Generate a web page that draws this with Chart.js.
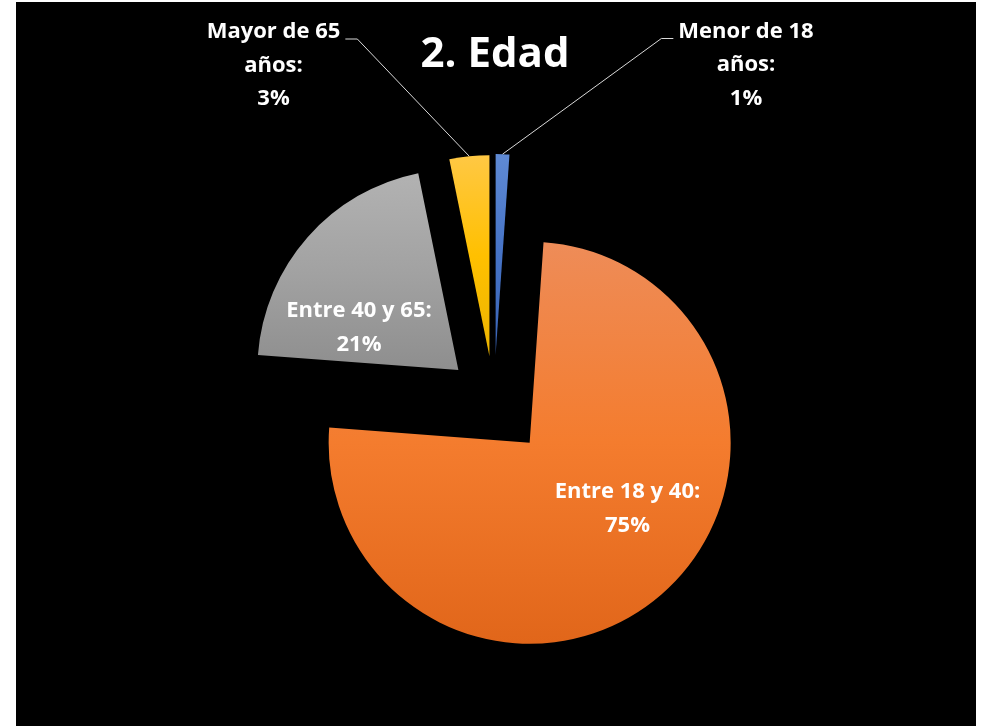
<!DOCTYPE html>
<html lang="es">
<head>
<meta charset="utf-8">
<title>2. Edad</title>
<script src="https://cdn.jsdelivr.net/npm/chart.js@4.4.1/dist/chart.umd.min.js"></script>
<style>
    html, body { margin: 0; padding: 0; background: #fff; }
    #wrap { position: absolute; left: 16px; top: 2px; width: 960px; height: 724px; background: #000; }
</style>
</head>
<body>
<div id="wrap"><canvas id="myChart"></canvas></div>
<script>
const chartTitle = '2. Edad';
const categories = ['Menor de 18 años', 'Entre 18 y 40', 'Entre 40 y 65', 'Mayor de 65 años'];
const percentages = [1.1, 75.1, 20.6, 3.2];

// look of each slice (gradient top -> middle -> bottom) and how far it is pulled out
const gradTop = ['#5F8AD4', '#EE8C58', '#B2B2B2', '#FFC844'];
const gradMid = ['#4673C6', '#F47C2E', '#A2A2A2', '#FFC000'];
const gradBottom = ['#3A64B6', '#E1661A', '#8E8E8E', '#ECB400'];
const explode = [46.5, 54.5, 47.5, 45.5];

// label placement: centre x, first baseline y, wrap width, leader direction (0 = none)
const labelStyle = [
    { x: 730, y: 35.5, maxWidth: 150, leader: -1 },
    { x: 611.5, y: 496, maxWidth: 220, leader: 0 },
    { x: 343, y: 315, maxWidth: 220, leader: 0 },
    { x: 257.5, y: 36, maxWidth: 150, leader: 1 }
];
const lineHeight = 33.5;

function wrapText(ctx, text, maxWidth) {
    const words = text.split(' ');
    const lines = [];
    let line = '';
    words.forEach(word => {
        const test = line ? line + ' ' + word : word;
        if (line && ctx.measureText(test).width > maxWidth) {
            lines.push(line);
            line = word;
        } else {
            line = test;
        }
    });
    lines.push(line);
    return lines;
}

// draws the slices pulled out from the centre, each with its own vertical gradient
const explodedPie = {
    id: 'explodedPie',
    beforeDatasetDraw(chart, args) {
        const ctx = chart.ctx;
        args.meta.data.forEach((arc, i) => {
            const mid = (arc.startAngle + arc.endAngle) / 2;
            let minY = arc.y, maxY = arc.y;
            for (let k = 0; k <= 90; k++) {
                const a = arc.startAngle + (arc.endAngle - arc.startAngle) * k / 90;
                const y = arc.y + Math.sin(a) * arc.outerRadius;
                minY = Math.min(minY, y);
                maxY = Math.max(maxY, y);
            }
            const grad = ctx.createLinearGradient(0, minY, 0, maxY);
            grad.addColorStop(0, gradTop[i]);
            grad.addColorStop(0.5, gradMid[i]);
            grad.addColorStop(1, gradBottom[i]);
            arc.options.backgroundColor = grad;
            ctx.save();
            ctx.translate(Math.cos(mid) * explode[i], Math.sin(mid) * explode[i]);
            arc.draw(ctx, chart.chartArea);
            ctx.restore();
        });
        return false;
    },
    afterDatasetsDraw(chart) {
        const ctx = chart.ctx;
        const arcs = chart.getDatasetMeta(0).data;
        const total = percentages.reduce((a, b) => a + b, 0);
        ctx.save();
        ctx.fillStyle = '#ffffff';
        ctx.textAlign = 'center';
        ctx.textBaseline = 'alphabetic';
        ctx.font = 'bold 42px "Open Sans"';
        ctx.fillText(chartTitle, 479, 65);

        ctx.font = 'bold 22px "Open Sans"';
        ctx.strokeStyle = '#d9d9d9';
        ctx.lineWidth = 1;
        arcs.forEach((arc, i) => {
            const s = labelStyle[i];
            const lines = wrapText(ctx, categories[i] + ':', s.maxWidth);
            lines.push(Math.round(percentages[i] / total * 100) + '%');
            lines.forEach((line, k) => ctx.fillText(line, s.x, s.y + k * lineHeight));

            if (s.leader) {
                const w = ctx.measureText(lines[0]).width;
                const mid = (arc.startAngle + arc.endAngle) / 2;
                const r = arc.outerRadius + explode[i];
                const ex = arc.x + Math.cos(mid) * r;
                const ey = arc.y + Math.sin(mid) * r;
                const sx = s.x + s.leader * (w / 2 + 5);
                const ly = s.y + 1;
                ctx.beginPath();
                ctx.moveTo(sx, ly);
                ctx.lineTo(sx + s.leader * 12, ly);
                ctx.lineTo(ex, ey);
                ctx.stroke();
            }
        });
        ctx.restore();
    }
};

const ctx = document.getElementById('myChart').getContext('2d');
new Chart(ctx, {
    type: 'pie',
    data: {
        labels: categories,
        datasets: [{
            data: percentages,
            backgroundColor: gradMid,
            borderWidth: 0
        }]
    },
    options: {
        responsive: true,
        maintainAspectRatio: false,
        animation: false,
        events: [],
        radius: 201,
        layout: {
            padding: { top: 75, bottom: 0, left: 0, right: 4 }
        },
        plugins: {
            legend: { display: false },
            tooltip: { enabled: false },
            title: { display: false }
        }
    },
    plugins: [explodedPie]
});
</script>
</body>
</html>
